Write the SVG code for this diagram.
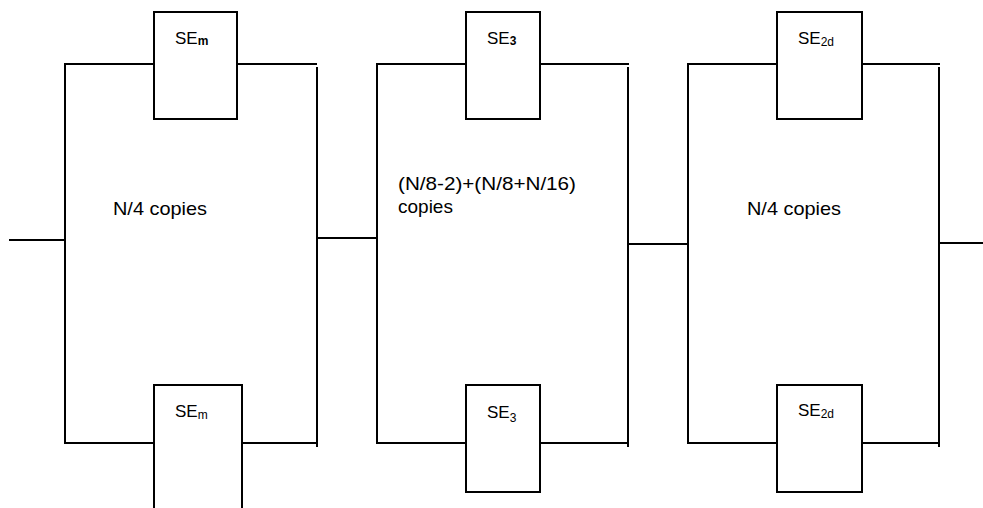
<svg xmlns="http://www.w3.org/2000/svg" width="983" height="508" viewBox="0 0 983 508">
<style>
.ln{fill:none;stroke:#000;stroke-width:2;stroke-linecap:butt;stroke-linejoin:miter}
.bx{fill:#fff;stroke:#000;stroke-width:2}
.t{font-family:"Liberation Sans",Arial,sans-serif;font-size:19px;fill:#000}
.se{font-family:"Liberation Sans",Arial,sans-serif;font-size:17px;fill:#000}
.sub{font-size:12px}
.b{font-weight:bold}
</style>
<rect width="983" height="508" fill="#fff"/>
<g id="connectors">
  <path class="ln" d="M9,240 H65"/>
  <path class="ln" d="M154,443 H65 V64 H154"/>
  <path class="ln" d="M237,64 H317"/>
  <path class="ln" d="M317,67 V447"/>
  <path class="ln" d="M242,443 H317"/>
  <path class="ln" d="M317,238 H377"/>
  <path class="ln" d="M466,443 H377 V64 H466"/>
  <path class="ln" d="M540,64 H629"/>
  <path class="ln" d="M628,67 V447"/>
  <path class="ln" d="M540,443 H628"/>
  <path class="ln" d="M628,244 H688"/>
  <path class="ln" d="M777,443 H688 V64 H777"/>
  <path class="ln" d="M862,64 H940"/>
  <path class="ln" d="M939,67 V447"/>
  <path class="ln" d="M862,443 H939"/>
  <path class="ln" d="M939,243 H983"/>
</g>
<g id="se-m-top"><rect class="bx" x="154" y="12" width="83" height="107"/><text class="se" x="175" y="44">SE<tspan class="sub b" dy="1">m</tspan></text></g>
<g id="se-m-bottom"><rect class="bx" x="154" y="385" width="88" height="140"/><text class="se" x="175" y="417">SE<tspan class="sub" dy="2">m</tspan></text></g>
<g id="se-3-top"><rect class="bx" x="466" y="12" width="74" height="107"/><text class="se" x="487" y="44">SE<tspan class="sub b" dy="1">3</tspan></text></g>
<g id="se-3-bottom"><rect class="bx" x="466" y="385" width="74" height="107"/><text class="se" x="487" y="418">SE<tspan class="sub" dy="4" font-size="14">3</tspan></text></g>
<g id="se-2d-top"><rect class="bx" x="777" y="12" width="85" height="107"/><text class="se" x="798" y="44">SE<tspan class="sub" dy="2">2d</tspan></text></g>
<g id="se-2d-bottom"><rect class="bx" x="777" y="385" width="85" height="107"/><text class="se" x="798" y="416">SE<tspan class="sub" dy="2">2d</tspan></text></g>
<g id="label-1"><text class="t" x="113" y="215" textLength="94" lengthAdjust="spacingAndGlyphs">N/4 copies</text></g>
<g id="label-2"><text class="t" x="398" y="190" textLength="178" lengthAdjust="spacingAndGlyphs">(N/8-2)+(N/8+N/16)</text><text class="t" x="398" y="213">copies</text></g>
<g id="label-3"><text class="t" x="747" y="215" textLength="94" lengthAdjust="spacingAndGlyphs">N/4 copies</text></g>
</svg>
